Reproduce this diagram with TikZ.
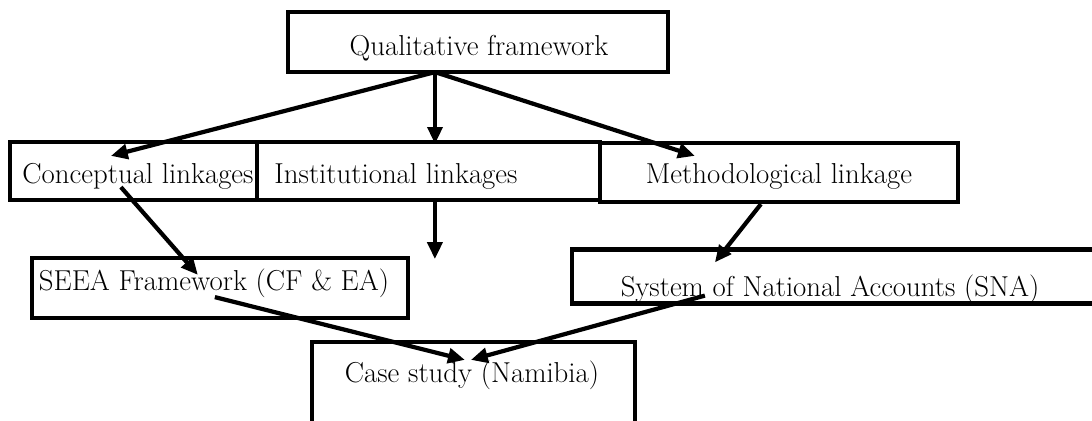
\documentclass[tikz,border=0pt]{standalone}
\usetikzlibrary{arrows.meta,calc}
\begin{document}
\begin{tikzpicture}[x=0.025cm, y=-0.025cm,
    box/.style={draw, line width=3pt, rectangle, inner sep=0pt},
    txt/.style={anchor=base, inner sep=0pt, font=\fontsize{20.5}{24}\selectfont},
    link/.style={line width=3pt, -{Triangle[length=12pt, width=10.5pt]}}]
  \clip (0,0) rectangle (1092,421);

  \node[box, minimum width=380*0.025cm, minimum height=60*0.025cm] (qual) at (478,42) {};
  \node[txt] (qualtext) at (479,55) {Qualitative framework};

  \node[box, minimum width=247*0.025cm, minimum height=58*0.025cm] (concept) at (133.5,171) {};
  \node[box, minimum width=343*0.025cm, minimum height=58*0.025cm] (inst) at (428.5,171) {};
  \node[box, minimum width=358*0.025cm, minimum height=59*0.025cm] (method) at (779,172.5) {};
  \node[txt] (concepttext) at (138,183) {Conceptual linkages};
  \node[txt] (insttext) at (396,183) {Institutional linkages};
  \node[txt] (methodtext) at (779,183) {Methodological linkage};

  \node[box, minimum width=376*0.025cm, minimum height=60*0.025cm] (seea) at (220,288) {};
  \node[txt] (seeatext) at (214,290) {SEEA Framework (CF \& EA)};

  \node[txt] (snatext) at (830,296) {System of National Accounts (SNA)};
  \node[box, minimum width=530*0.025cm, minimum height=54*0.025cm] (sna) at (837,276.5) {};

  \node[box, minimum width=323*0.025cm, minimum height=100*0.025cm] (case) at (473.5,392) {};
  \node[txt] (casetext) at (472,382) {Case study (Namibia)};

  % from the top box
  \coordinate (fork) at ($(qual.south)+(-43,-2)$);
  \draw[link] (fork) -- ($(concept.north west)+(103,16)$);
  \draw[link] (fork) -- ($(fork |- inst.north)+(0,4)$);
  \draw[link] (fork) -- ($(method.north west)+(97,15)$);

  % second row
  \coordinate (instend) at ($(inst.south west)+(180,57)$);
  \draw[link] ($(concept.south west)+(113,-15)$) -- ($(seea.north west)+(168,19)$);
  \draw[link] (instend |- inst.south) -- (instend);
  \draw[link] ($(method.south west)+(163,0)$) -- ($(sna.north west)+(145,15)$);

  % into the case study
  \draw[link] ($(seea.south west)+(185,-23)$) -- ($(case.north west)+(155,20)$);
  \draw[link] ($(sna.south west)+(135,-10)$) -- ($(case.north west)+(161,20)$);
\end{tikzpicture}
\end{document}
